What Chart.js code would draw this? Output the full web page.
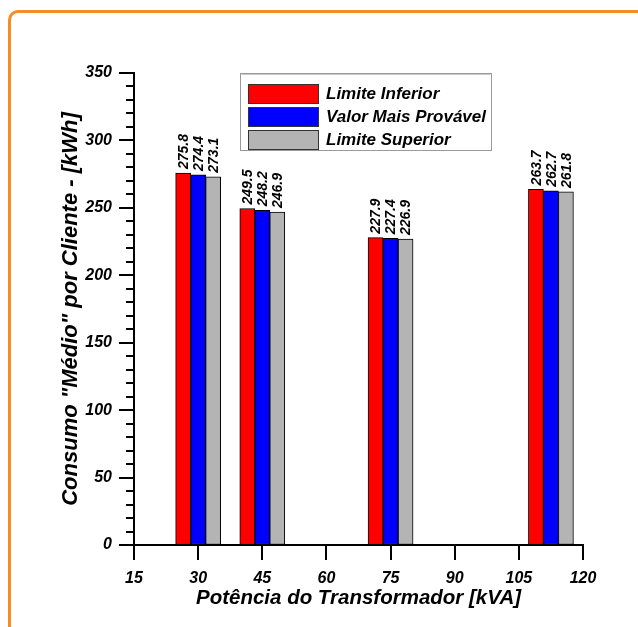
<!DOCTYPE html>
<html>
<head>
<meta charset="utf-8">
<script src="https://cdn.jsdelivr.net/npm/chart.js@4.4.1/dist/chart.umd.min.js"></script>
<style>
  html, body { margin: 0; padding: 0; background: #fff; overflow: hidden; }
  #wrap { position: relative; width: 638px; height: 627px; overflow: hidden; background: #fff; }
  #frame { position: absolute; left: 8px; top: 10px; width: 700px; height: 700px;
           border: 3px solid #f98a25; border-radius: 10px; box-sizing: border-box; }
  canvas { position: absolute; left: 0; top: 0; }
</style>
</head>
<body>
<div id="wrap">
  <div id="frame"></div>
  <canvas id="c" width="638" height="627"></canvas>
</div>
<script>
// ---- Data ----
const categories = [30, 45, 75, 112.5];          // Potência do Transformador [kVA]
const limiteInferior    = [275.8, 249.5, 227.9, 263.7];
const valorMaisProvavel = [274.4, 248.2, 227.4, 262.7];
const limiteSuperior    = [273.1, 246.9, 226.9, 261.8];
const seriesNames = ['Limite Inferior', 'Valor Mais Provável', 'Limite Superior'];
const xTickValues = [15, 30, 45, 60, 75, 90, 105, 120];
const yTickValues = [0, 50, 100, 150, 200, 250, 300, 350];
const xTitle = 'Potência do Transformador [kVA]';
const yTitle = 'Consumo "Médio" por Cliente - [kWh]';

const seriesColors = ['#ff0000', '#0000ff', '#b4b4b4'];
const FONT = '"Liberation Sans", Arial, sans-serif';

function toPoints(vals) { return categories.map((c, i) => ({ x: c, y: vals[i] })); }

const datasets = [limiteInferior, valorMaisProvavel, limiteSuperior].map((vals, k) => ({
  label: seriesNames[k],
  data: toPoints(vals),
  backgroundColor: seriesColors[k],
  borderColor: '#000',
  borderWidth: 1,
  barThickness: 15,
  borderSkipped: false
}));

const overlay = {
  id: 'overlay',
  afterDatasetsDraw(chart) {
    const ctx = chart.ctx;
    const xs = chart.scales.x, ys = chart.scales.y;
    ctx.save();
    ctx.strokeStyle = '#000';
    ctx.lineWidth = 2;
    // y ticks: minor every 10, major at tick values
    for (let v = ys.min; v <= ys.max + 1e-9; v += 10) {
      const py = Math.round(ys.getPixelForValue(v));
      const major = yTickValues.includes(v);
      const len = major ? 15 : 8;
      ctx.beginPath();
      ctx.moveTo(xs.left - len, py);
      ctx.lineTo(xs.left, py);
      ctx.stroke();
    }
    // x ticks (major only)
    xTickValues.forEach(v => {
      const px = Math.round(xs.getPixelForValue(v));
      ctx.beginPath();
      ctx.moveTo(px, ys.bottom);
      ctx.lineTo(px, ys.bottom + 15);
      ctx.stroke();
    });

    // value labels on bars
    ctx.fillStyle = '#000';
    ctx.font = 'italic bold 14px ' + FONT;
    ctx.textAlign = 'left';
    ctx.textBaseline = 'middle';
    chart.data.datasets.forEach((ds, k) => {
      const meta = chart.getDatasetMeta(k);
      meta.data.forEach((bar, i) => {
        ctx.save();
        ctx.translate(bar.x + 1, bar.y - 4);
        ctx.rotate(-Math.PI / 2);
        ctx.fillText(ds.data[i].y.toFixed(1), 0, 0);
        ctx.restore();
      });
    });

    // legend box
    const ca = chart.chartArea;
    const lx = ca.left + 106, ly = ca.top;
    const lw = 251, lh = 77;
    ctx.fillStyle = '#fff';
    ctx.fillRect(lx, ly, lw, lh);
    ctx.strokeStyle = '#9a9a9a';
    ctx.lineWidth = 1;
    ctx.strokeRect(lx + 0.5, ly + 0.5, lw, lh);
    ctx.strokeStyle = '#c8c8c8';
    ctx.beginPath();
    ctx.moveTo(lx + 1.5, ly + 1.5); ctx.lineTo(lx + lw - 0.5, ly + 1.5);
    ctx.stroke();
    ctx.font = 'italic bold 17px ' + FONT;
    ctx.textBaseline = 'middle';
    chart.data.datasets.forEach((ds, k) => {
      const sy = ly + 11 + k * 23;
      ctx.fillStyle = ds.backgroundColor;
      ctx.fillRect(lx + 8, sy, 71, 20);
      ctx.strokeStyle = '#333';
      ctx.lineWidth = 1;
      ctx.strokeRect(lx + 8.5, sy + 0.5, 70, 19);
      ctx.fillStyle = '#000';
      ctx.fillText(ds.label, lx + 86, sy + 10.5);
    });
    ctx.restore();
  }
};

new Chart(document.getElementById('c'), {
  type: 'bar',
  data: { datasets },
  plugins: [overlay],
  options: {
    responsive: false,
    animation: false,
    events: [],
    layout: { padding: { top: 73, right: 55, left: 0, bottom: 0 } },
    plugins: { legend: { display: false }, tooltip: { enabled: false } },
    scales: {
      x: {
        type: 'linear',
        min: 15, max: 120,
        offset: false,
        afterFit: s => { s.height = 82; },
        afterBuildTicks: s => { s.ticks = xTickValues.map(v => ({ value: v })); },
        grid: { display: true, drawOnChartArea: false, drawTicks: true, tickLength: 15, color: 'rgba(0,0,0,0)', offset: false },
        border: { display: true, color: '#000', width: 2 },
        ticks: { color: '#000', padding: 9, maxRotation: 0, autoSkip: false,
                 font: { family: FONT, size: 16, style: 'italic', weight: 'bold' } },
        title: { display: true, text: xTitle, color: '#000',
                 padding: { top: 0, bottom: 16 },
                 font: { family: FONT, size: 20.5, style: 'italic', weight: 'bold' } }
      },
      y: {
        type: 'linear',
        min: 0, max: 350,
        afterFit: s => { s.width = 134; },
        afterBuildTicks: s => { s.ticks = yTickValues.map(v => ({ value: v })); },
        grid: { display: true, drawOnChartArea: false, drawTicks: true, tickLength: 15, color: 'rgba(0,0,0,0)' },
        border: { display: true, color: '#000', width: 2 },
        ticks: { color: '#000', padding: 7, autoSkip: false,
                 font: { family: FONT, size: 16, style: 'italic', weight: 'bold' } },
        title: { display: true, text: yTitle, color: '#000',
                 padding: { top: 58, bottom: 0 },
                 font: { family: FONT, size: 22, style: 'italic', weight: 'bold' } }
      }
    }
  }
});
</script>
</body>
</html>
